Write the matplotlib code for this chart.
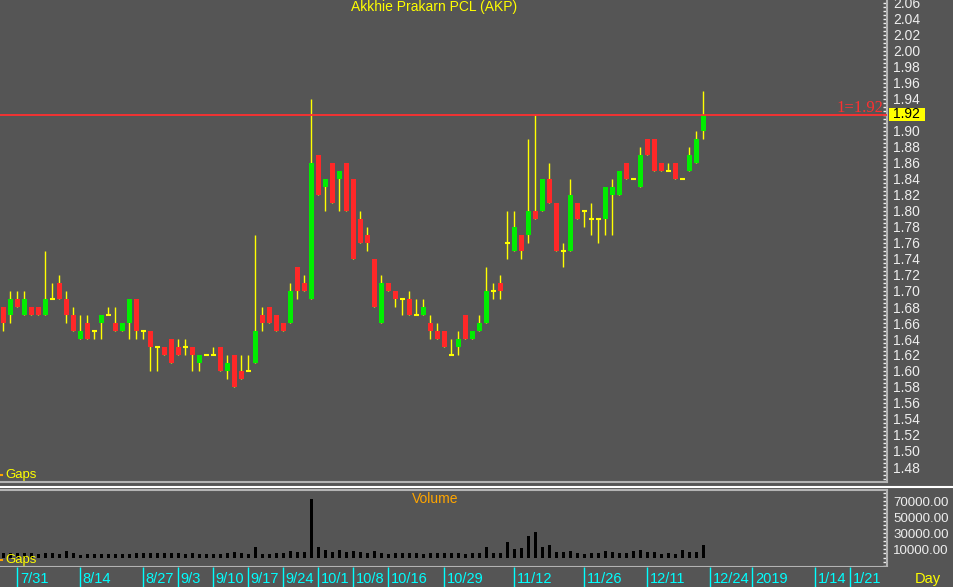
import matplotlib
matplotlib.use('Agg')
import matplotlib.pyplot as plt
from matplotlib.lines import Line2D
from matplotlib.patches import Rectangle
from matplotlib.ticker import FixedLocator, FuncFormatter, MultipleLocator
import numpy as np

# ---------------- data ----------------
opens = [1.68, 1.67, 1.69, 1.67, 1.68, 1.68, 1.67, 1.69, 1.71, 1.69,
         1.67, 1.64, 1.66, 1.65, 1.66, 1.67, 1.66, 1.65, 1.66, 1.69,
         1.65, 1.65, 1.63, 1.63, 1.64, 1.63, 1.63, 1.63, 1.61, 1.62,
         1.62, 1.63, 1.60, 1.62, 1.60, 1.60, 1.61, 1.67, 1.68, 1.67,
         1.66, 1.66, 1.73, 1.71, 1.69, 1.87, 1.83, 1.86, 1.84, 1.86,
         1.84, 1.79, 1.77, 1.74, 1.66, 1.71, 1.70, 1.69, 1.69, 1.67,
         1.67, 1.66, 1.65, 1.65, 1.62, 1.63, 1.67, 1.64, 1.65, 1.66,
         1.70, 1.71, 1.76, 1.75, 1.77, 1.77, 1.80, 1.80, 1.84, 1.81,
         1.75, 1.75, 1.81, 1.80, 1.79, 1.79, 1.79, 1.82, 1.82, 1.86,
         1.84, 1.83, 1.89, 1.89, 1.86, 1.85, 1.86, 1.84, 1.85, 1.86,
         1.90]
highs = [1.68, 1.70, 1.70, 1.70, 1.68, 1.68, 1.75, 1.71, 1.72, 1.70,
         1.68, 1.67, 1.67, 1.65, 1.67, 1.68, 1.68, 1.66, 1.69, 1.69,
         1.65, 1.65, 1.63, 1.63, 1.64, 1.64, 1.64, 1.63, 1.62, 1.62,
         1.63, 1.63, 1.62, 1.62, 1.62, 1.62, 1.77, 1.68, 1.68, 1.67,
         1.66, 1.71, 1.73, 1.72, 1.94, 1.87, 1.84, 1.86, 1.85, 1.86,
         1.84, 1.80, 1.78, 1.74, 1.72, 1.71, 1.70, 1.69, 1.70, 1.69,
         1.69, 1.67, 1.66, 1.65, 1.64, 1.65, 1.67, 1.65, 1.67, 1.73,
         1.71, 1.72, 1.80, 1.80, 1.77, 1.89, 1.92, 1.84, 1.86, 1.81,
         1.76, 1.84, 1.81, 1.80, 1.81, 1.79, 1.83, 1.84, 1.85, 1.86,
         1.84, 1.88, 1.89, 1.89, 1.86, 1.86, 1.86, 1.84, 1.88, 1.90,
         1.95]
lows = [1.65, 1.66, 1.68, 1.67, 1.67, 1.67, 1.67, 1.69, 1.69, 1.66,
        1.65, 1.64, 1.64, 1.64, 1.64, 1.67, 1.65, 1.65, 1.64, 1.64,
        1.64, 1.60, 1.60, 1.62, 1.61, 1.62, 1.62, 1.60, 1.60, 1.62,
        1.62, 1.60, 1.59, 1.58, 1.59, 1.60, 1.61, 1.65, 1.66, 1.65,
        1.65, 1.66, 1.69, 1.70, 1.69, 1.82, 1.80, 1.81, 1.80, 1.80,
        1.74, 1.76, 1.75, 1.68, 1.66, 1.70, 1.68, 1.67, 1.67, 1.67,
        1.67, 1.64, 1.64, 1.63, 1.62, 1.62, 1.64, 1.64, 1.65, 1.66,
        1.69, 1.69, 1.74, 1.75, 1.74, 1.76, 1.79, 1.80, 1.81, 1.75,
        1.73, 1.75, 1.79, 1.78, 1.77, 1.76, 1.77, 1.77, 1.82, 1.84,
        1.84, 1.83, 1.87, 1.85, 1.85, 1.85, 1.84, 1.84, 1.85, 1.86,
        1.89]
closes = [1.66, 1.69, 1.68, 1.69, 1.67, 1.67, 1.69, 1.69, 1.69, 1.67,
          1.65, 1.65, 1.64, 1.65, 1.67, 1.67, 1.65, 1.66, 1.69, 1.65,
          1.65, 1.63, 1.63, 1.62, 1.61, 1.62, 1.63, 1.62, 1.62, 1.62,
          1.62, 1.60, 1.61, 1.58, 1.59, 1.60, 1.65, 1.66, 1.66, 1.65,
          1.65, 1.70, 1.70, 1.70, 1.86, 1.82, 1.84, 1.81, 1.85, 1.80,
          1.74, 1.76, 1.76, 1.68, 1.71, 1.70, 1.69, 1.69, 1.67, 1.67,
          1.68, 1.65, 1.64, 1.63, 1.62, 1.64, 1.64, 1.65, 1.66, 1.70,
          1.70, 1.70, 1.76, 1.78, 1.75, 1.80, 1.79, 1.84, 1.81, 1.75,
          1.75, 1.82, 1.79, 1.80, 1.79, 1.79, 1.83, 1.83, 1.85, 1.84,
          1.84, 1.87, 1.87, 1.85, 1.85, 1.85, 1.84, 1.84, 1.87, 1.89,
          1.92]
volumes = [5000, 5000, 5000, 5000, 5000, 4200, 5000, 5000, 4200, 8400,
           5000, 3400, 4200, 4200, 4200, 4200, 4200, 4200, 4200, 5900,
           5000, 5000, 5900, 5000, 5000, 5000, 4200, 5000, 4200, 4200,
           4200, 4200, 5000, 6700, 5400, 4200, 12500, 4200, 4200, 5000,
           5000, 7500, 6300, 6300, 72600, 12500, 9200, 7100, 9600, 6300,
           8000, 6300, 5900, 7500, 5000, 4600, 5000, 5900, 5900, 5000,
           4600, 5900, 5400, 5400, 5400, 5400, 4200, 5000, 5000, 13300,
           5900, 5900, 18800, 10800, 11300, 26300, 32000, 12500, 15000, 6300,
           6700, 8400, 5000, 4200, 5900, 5900, 7500, 7100, 5900, 5900,
           7500, 8800, 6700, 6300, 4600, 5900, 4200, 9200, 6300, 6300,
           15000]
date_ticks = [2, 11, 20, 25, 30, 35, 40, 45, 50, 55, 63, 73, 83, 92, 101, 107, 116, 121]
date_labels = ['7/31', '8/14', '8/27', '9/3', '9/10', '9/17', '9/24', '10/1', '10/8',
               '10/16', '10/29', '11/12', '11/26', '12/11', '12/24', '2019', '1/14', '1/21']
price_ticks = [round(1.48 + 0.02 * k, 2) for k in range(30)]
vol_ticks = [10000, 30000, 50000, 70000]
ref_level = 1.92
title = "Akkhie Prakarn PCL (AKP)"

# ---------------- layout ----------------
plt.rcParams['font.family'] = ['Liberation Sans', 'DejaVu Sans']
W, H = 954, 587
BG = '#555555'
GRAY = '#B4B4B4'
TXT = '#EEEEEE'
fig = plt.figure(figsize=(W / 100, H / 100), dpi=100, facecolor=BG)


def fx(px):
    return px / W


def fy(py):
    return 1 - py / H


x0, x1 = -3.3 / 7, (887 - 3.3) / 7

ax = fig.add_axes([0, fy(482), fx(887), 482 / H])
axv = fig.add_axes([0, fy(567), fx(887), (567 - 489.5) / H])
axd = fig.add_axes([0, 0, 1, 20 / H])

for a in (ax, axv, axd):
    a.set_facecolor(BG)
    for s in a.spines.values():
        s.set_visible(False)

# ---------------- candles ----------------
n = len(opens)
xs = np.arange(n)
o = np.array(opens); h = np.array(highs); l = np.array(lows); c = np.array(closes)
ax.vlines(xs, l, h, color='#FFFF00', lw=1.0, zorder=2)
up = c > o
dn = c < o
eq = c == o
bw = 0.72
ax.bar(xs[up], (c - o)[up], bottom=o[up], width=bw, color='#00EE00', lw=0, zorder=3)
ax.bar(xs[dn], (o - c)[dn], bottom=c[dn], width=bw, color='#FF2828', lw=0, zorder=3)
ax.hlines(o[eq], xs[eq] - bw / 2, xs[eq] + bw / 2, color='#FFFF00', lw=1.5, zorder=3)

ax.axhline(ref_level, color='#FF3030', lw=1.3, zorder=4)
ax.set_xlim(x0, x1)
ax.set_ylim(1.92 - 367 / 800, 1.92 + 115 / 800)

ax.spines['right'].set_visible(True)
ax.spines['right'].set_color(GRAY)
ax.spines['right'].set_linewidth(1.5)
ax.spines['bottom'].set_visible(True)
ax.spines['bottom'].set_color(GRAY)
ax.spines['bottom'].set_linewidth(1.5)
ax.xaxis.set_visible(False)
ax.yaxis.tick_right()
ax.yaxis.set_major_locator(FixedLocator(price_ticks))
ax.yaxis.set_major_formatter(FuncFormatter(
    lambda v, p: '' if abs(v - ref_level) < 1e-6 else f'{v:.2f}'))
ax.yaxis.set_minor_locator(MultipleLocator(0.005))
ax.tick_params(axis='y', which='both', direction='in', length=3, width=1,
               color=TXT, labelcolor=TXT, labelsize=10, pad=4.5)

# ---------------- volume ----------------
axv.bar(xs, volumes, width=0.5, color='black', lw=0, zorder=2)
axv.set_xlim(x0, x1)
axv.set_ylim(-11830, 84680)
for sname in ('right', 'top', 'bottom'):
    axv.spines[sname].set_visible(True)
    axv.spines[sname].set_color(GRAY)
    axv.spines[sname].set_linewidth(1.5)
axv.xaxis.set_visible(False)
axv.yaxis.tick_right()
axv.yaxis.set_major_locator(FixedLocator(vol_ticks))
axv.yaxis.set_major_formatter(FuncFormatter(lambda v, p: f'{v:.2f}'))
axv.yaxis.set_minor_locator(MultipleLocator(5000))
axv.tick_params(axis='y', which='both', direction='in', length=3, width=1,
                color=TXT, labelcolor=TXT, labelsize=9.6, pad=4.5)

# ---------------- date strip ----------------
axd.set_xlim(x0, (W - 3.3) / 7)
axd.set_ylim(0, 1)
axd.set_xticks([]); axd.set_yticks([])
axd.vlines(date_ticks, 0, 1, color='#00FFFF', lw=1.0)
for t, lab in zip(date_ticks, date_labels):
    axd.text(t + 2.5 / 7, 0.42, lab, color='#00FFFF', ha='left', va='center', fontsize=10.5)
axd.text((928 - 3.3) / 7, 0.42, 'Day', color='#FFFF00', ha='center', va='center', fontsize=10.5)

# ---------------- decorations ----------------
fig.add_artist(Line2D([0, 1], [fy(486.5)] * 2, color='white', lw=1.5, transform=fig.transFigure))

fig.text(fx(434), fy(7), title, color='#FFFF00', ha='center', va='center', fontsize=10)
fig.text(fx(434.7), fy(499), 'Volume', color='#FFA500', ha='center', va='center', fontsize=10)
for gy in (475, 560):
    fig.text(fx(5), fy(gy), 'Gaps', color='#FFFF00', ha='left', va='center', fontsize=9.5, zorder=5)
    fig.add_artist(Line2D([0, fx(2)], [fy(gy)] * 2, color='#FFA500', lw=1.5,
                          transform=fig.transFigure))

fig.text(fx(883), fy(112.5), '1=1.92', color='#FF3030', ha='right', va='baseline',
         fontsize=12, family=['Liberation Serif', 'DejaVu Serif'])
fig.add_artist(Rectangle((fx(889), fy(121)), 36 / W, 13.5 / H, transform=fig.transFigure,
                         facecolor='#FFFF00', edgecolor='none', zorder=4))
fig.text(fx(893), fy(114.5), f'{ref_level:.2f}', color='black', ha='left', va='center',
         fontsize=10, zorder=5)

fig.savefig('out.png', dpi=100, facecolor=BG)
